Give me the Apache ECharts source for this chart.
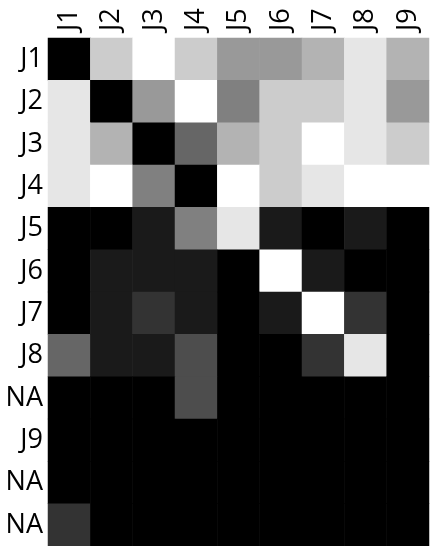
<!DOCTYPE html>
<html>
<head>
<meta charset="utf-8">
<script src="https://cdn.jsdelivr.net/npm/echarts@6/dist/echarts.min.js"></script>
<style>
  html, body { margin: 0; padding: 0; background: #fff; }
  #chart { width: 430px; height: 546px; }
</style>
</head>
<body>
<div id="chart"></div>
<script>
(function () {
// columns (top) and rows (left)
var cols = ['J1', 'J2', 'J3', 'J4', 'J5', 'J6', 'J7', 'J8', 'J9'];
var rows = ['J1', 'J2', 'J3', 'J4', 'J5', 'J6', 'J7', 'J8', 'NA', 'J9', 'NA', 'NA'];

// grey level per cell, 0 = black .. 10 = white, one array per row
var rJ1  = [0, 8, 10, 8, 6, 6, 7, 9, 7];
var rJ2  = [9, 0, 6, 10, 5, 8, 8, 9, 6];
var rJ3  = [9, 7, 0, 4, 7, 8, 10, 9, 8];
var rJ4  = [9, 10, 5, 0, 10, 8, 9, 10, 10];
var rJ5  = [0, 0, 1, 5, 9, 1, 0, 1, 0];
var rJ6  = [0, 1, 1, 1, 0, 10, 1, 0, 0];
var rJ7  = [0, 1, 2, 1, 0, 1, 10, 2, 0];
var rJ8  = [4, 1, 1, 3, 0, 0, 2, 9, 0];
var rNA1 = [0, 0, 0, 3, 0, 0, 0, 0, 0];
var rJ9  = [0, 0, 0, 0, 0, 0, 0, 0, 0];
var rNA2 = [0, 0, 0, 0, 0, 0, 0, 0, 0];
var rNA3 = [2, 0, 0, 0, 0, 0, 0, 0, 0];

var matrix = [rJ1, rJ2, rJ3, rJ4, rJ5, rJ6, rJ7, rJ8, rNA1, rJ9, rNA2, rNA3];

var data = [];
matrix.forEach(function (row, y) {
  row.forEach(function (v, x) {
    data.push([x, y, v]);
  });
});

var myChart = echarts.init(document.getElementById('chart'));

var labelFont = {
  color: '#000',
  fontSize: 27,
  fontFamily: 'Open Sans'
};

var option = {
  animation: false,
  backgroundColor: '#fff',
  grid: { left: 48, right: 1, top: 38, bottom: 0 },
  xAxis: {
    type: 'category',
    position: 'top',
    data: cols,
    axisLine: { show: false },
    axisTick: { show: false },
    splitLine: { show: false },
    axisLabel: Object.assign({ rotate: -90, margin: 7 }, labelFont)
  },
  yAxis: {
    type: 'category',
    inverse: true,
    data: rows,
    axisLine: { show: false },
    axisTick: { show: false },
    splitLine: { show: false },
    axisLabel: Object.assign({ margin: 5 }, labelFont)
  },
  visualMap: {
    show: false,
    min: 0,
    max: 10,
    inRange: { color: ['#000000', '#ffffff'] }
  },
  series: [{
    type: 'heatmap',
    data: data,
    itemStyle: { borderWidth: 0 },
    emphasis: { disabled: true }
  }]
};

myChart.setOption(option);

window.addEventListener('resize', function () {
  myChart.resize();
});
})();
</script>
</body>
</html>
